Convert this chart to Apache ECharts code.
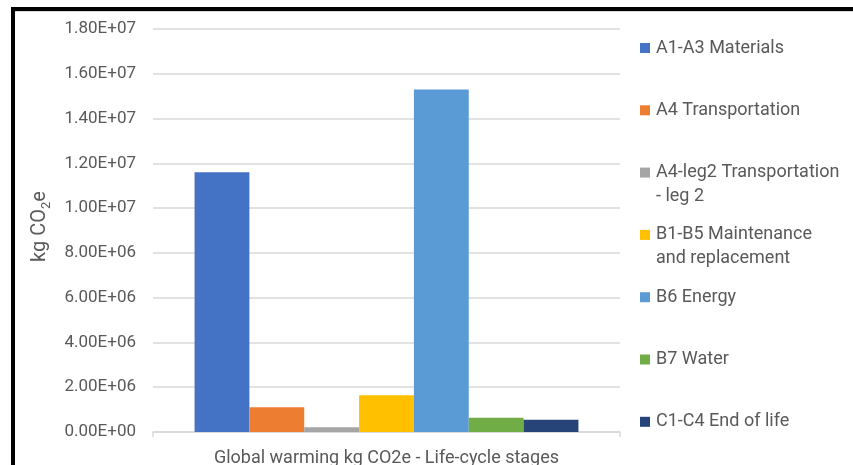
<!DOCTYPE html>
<html>
<head>
<meta charset="utf-8">
<script src="https://cdn.jsdelivr.net/npm/echarts@6/dist/echarts.min.js"></script>
<style>
  html, body { margin: 0; padding: 0; background: #fff; }
  #chart { width: 853px; height: 465px; }
</style>
</head>
<body>
<div id="chart"></div>
<script>
// Life-cycle stage contributions to global warming (kg CO2e)
const category = ['Global warming kg CO2e - Life-cycle stages'];
const stageNames = [
  'A1-A3 Materials',
  'A4 Transportation',
  'A4-leg2 Transportation - leg 2',
  'B1-B5 Maintenance and replacement',
  'B6 Energy',
  'B7 Water',
  'C1-C4 End of life'
];
// Wrapped legend text (lines as shown in the legend)
const stageLegendLines = [
  ['A1-A3 Materials'],
  ['A4 Transportation'],
  ['A4-leg2 Transportation', '- leg 2'],
  ['B1-B5 Maintenance', 'and replacement'],
  ['B6 Energy'],
  ['B7 Water'],
  ['C1-C4 End of life']
];
const stageValues = [11600000, 1100000, 210000, 1640000, 15300000, 640000, 550000];
const stageColors = ['#4472C4', '#ED7D31', '#A5A5A5', '#FFC000', '#5B9BD5', '#70AD47', '#264478'];
const yTicks = { min: 0, max: 18000000, interval: 2000000 };

const FONT = 'Roboto';
const TEXT = '#595959';

function sci(v) {
  if (v === 0) return '0.00E+00';
  const e = Math.floor(Math.log10(Math.abs(v)));
  const m = v / Math.pow(10, e);
  const es = (e < 0 ? '-' : '+') + String(Math.abs(e)).padStart(2, '0');
  return m.toFixed(2) + 'E' + es;
}

const series = stageNames.map((name, i) => ({
  name: name,
  type: 'bar',
  data: [stageValues[i]],
  itemStyle: { color: stageColors[i] },
  barGap: '0%',
  barCategoryGap: '17.8%'
}));

// One legend block per stage so multi-line entries keep the marker on the first line
const LEG_LH = 24;
const legends = stageNames.map((name, i) => {
  const lines = stageLegendLines[i];
  const firstCenter = 48 + i * 62.3;
  const multi = lines.length > 1;
  return {
    show: true,
    orient: 'vertical',
    left: 640,
    top: multi ? firstCenter - LEG_LH * 1.5 : firstCenter - LEG_LH / 2,
    padding: 0,
    icon: 'rect',
    itemWidth: 10,
    itemHeight: 10,
    selectedMode: false,
    data: [name],
    formatter: () => multi ? '\n' + lines.join('\n') : lines[0],
    textStyle: { fontFamily: FONT, fontSize: 18, color: TEXT, lineHeight: LEG_LH, padding: [0, 0, 0, 1] }
  };
});

const chart = echarts.init(document.getElementById('chart'), null, { renderer: 'canvas' });
chart.setOption({
  animation: false,
  backgroundColor: '#ffffff',
  grid: { left: 153, right: 233, top: 29, bottom: 33, containLabel: false, outerBoundsMode: 'none' },
  legend: legends,
  xAxis: {
    type: 'category',
    data: category,
    axisLine: { show: true, lineStyle: { color: '#D9D9D9', width: 1.5 } },
    axisTick: { show: true, length: 5, lineStyle: { color: '#D9D9D9', width: 1.5 } },
    axisLabel: { fontFamily: FONT, fontSize: 18, color: TEXT, margin: 17 }
  },
  yAxis: {
    type: 'value',
    min: yTicks.min,
    max: yTicks.max,
    interval: yTicks.interval,
    name: '{a|kg CO}{s|2}{a|e}',
    nameLocation: 'middle',
    nameRotate: 90,
    nameGap: 100,
    nameTextStyle: {
      padding: [0, 0, 0, 8],
      rich: {
        a: { fontFamily: FONT, fontSize: 20, color: TEXT, lineHeight: 24, verticalAlign: 'bottom' },
        s: { fontFamily: FONT, fontSize: 13, color: TEXT, lineHeight: 24, verticalAlign: 'bottom', padding: [0, 0, -4, 0] }
      }
    },
    axisLine: { show: false },
    axisTick: { show: false },
    splitLine: { lineStyle: { color: '#D9D9D9', width: 1.5 } },
    axisLabel: { fontFamily: FONT, fontSize: 17, color: TEXT, margin: 17, formatter: sci }
  },
  graphic: [
    { type: 'rect', silent: true, z: 100,
      shape: { x: 13, y: 9, width: 900, height: 500 },
      style: { fill: 'none', stroke: '#000', lineWidth: 4 } },
    { type: 'line', silent: true, z: 99,
      shape: { x1: 15, y1: 11.5, x2: 853, y2: 11.5 },
      style: { stroke: '#D9D9D9', lineWidth: 1 } }
  ],
  series: series
});
</script>
</body>
</html>
